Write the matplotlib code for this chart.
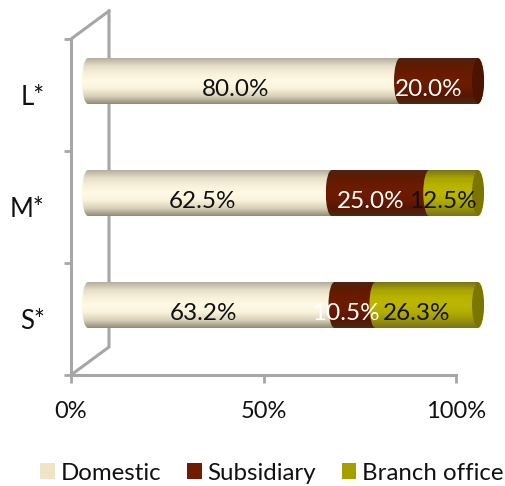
import numpy as np
import matplotlib
matplotlib.use('Agg')
import matplotlib.pyplot as plt
import matplotlib.patches as patches
from matplotlib.path import Path
from matplotlib.colors import LinearSegmentedColormap

plt.rcParams['font.family'] = ['Lato', 'DejaVu Sans']

# data
categories = ['S*', 'M*', 'L*']
domestic = [63.2, 62.5, 80.0]
subsidiary = [10.5, 25.0, 20.0]
branch = [26.3, 12.5, 0.0]
series_names = ['Domestic', 'Subsidiary', 'Branch office']
xticks = [0, 50, 100]

W, H = 505, 486
fig = plt.figure(figsize=(W / 100, H / 100), dpi=100)
ax = fig.add_axes([71 / W, 1 - 375 / H, 385 / W, 336 / H])
ax.set_xlim(0, 100)
ax.set_ylim(0, 3)
px = 100 / 385    # data units per pixel, x
py = 3 / 336      # data units per pixel, y

depth_x = 38 * px
depth_y = 28 * py
bar_x = 17 * px
bar_k = 1.013     # bars sit further back, so they come out a bit longer than the axis
bar_h = 46 * py
cap = 6 * px
grey = '#a6a6a6'

# shading from top to bottom of the cylinder
shades = {
    'Domestic': ['#b5ae9e', '#e6dec6', '#f8f1da', '#fffae6', '#f9f2da', '#d8d0b8', '#8f8a78'],
    'Subsidiary': ['#50200f', '#611b02', '#691b00', '#6c1c00', '#671a00', '#561600', '#4c2a1a'],
    'Branch office': ['#77741a', '#a8a300', '#b8b300', '#bcb700', '#b2ad00', '#98940a', '#777420'],
}
cap_colors = {'Domestic': '#c8c2ac', 'Subsidiary': '#4a1400', 'Branch office': '#7a7600'}
legend_colors = ['#f0e4c6', '#6f1c00', '#a5a000']

ax.set_facecolor('none')
for s in ax.spines.values():
    s.set_visible(False)

# chart walls
ax.plot([0, depth_x, depth_x], [0, depth_y, 3 + depth_y], color=grey, lw=2.2, clip_on=False, zorder=1)
ax.plot([0, depth_x], [3, 3 + depth_y], color=grey, lw=2.2, clip_on=False, zorder=1)
ax.plot([0, 0], [0, 3], color=grey, lw=2.2, clip_on=False, zorder=1)
ax.plot([0, 100], [0, 0], color=grey, lw=2.2, clip_on=False, zorder=1)

ax.set_xticks(xticks)
ax.set_xticklabels([f'{v}%' for v in xticks], fontsize=17, color='#111111')
ax.set_yticks([0, 1, 2, 3])
ax.set_yticklabels([])
ax.set_yticks([0.5, 1.5, 2.5], minor=True)
ax.set_yticklabels(categories, minor=True, fontsize=18.5, color='#111111')
ax.tick_params(axis='x', color=grey, width=2, length=6, pad=12.5)
ax.tick_params(axis='y', which='major', color=grey, width=2, length=5)
ax.tick_params(axis='y', which='minor', length=0, pad=19)


def segment(x0, x1, yc, name, z):
    y0, y1 = yc - bar_h / 2, yc + bar_h / 2
    k = 0.5523
    h = bar_h / 2
    verts = [(x0, y0), (x0 - cap * k, y0), (x0 - cap, yc - h * k), (x0 - cap, yc),
             (x0 - cap, yc + h * k), (x0 - cap * k, y1), (x0, y1),
             (x1, y1), (x1 + cap * k, y1), (x1 + cap, yc + h * k), (x1 + cap, yc),
             (x1 + cap, yc - h * k), (x1 + cap * k, y0), (x1, y0), (x0, y0)]
    codes = [Path.MOVETO] + [Path.CURVE4] * 6 + [Path.LINETO] + [Path.CURVE4] * 6 + [Path.LINETO]
    cmap = LinearSegmentedColormap.from_list(name, shades[name])
    grad = np.linspace(0, 1, 128).reshape(-1, 1)
    im = ax.imshow(grad, cmap=cmap, extent=(x0 - cap, x1 + cap, y0, y1), origin='upper',
                   aspect='auto', zorder=z, interpolation='bilinear')
    outline = patches.PathPatch(Path(verts, codes), transform=ax.transData, fc='none', ec='none',
                                clip_on=False)
    ax.add_patch(outline)
    # the path alone clips, the bars run past the axes box on the right
    im.set_clip_box(fig.bbox)
    im.set_clip_path(outline)


for i, cat in enumerate(categories):
    yc = i + 0.5 + depth_y / 2
    left = 0.0
    vals = [domestic[i], subsidiary[i], branch[i]]
    z = 3
    for name, v in zip(series_names, vals):
        if v == 0:
            continue
        segment(bar_x + left * bar_k, bar_x + (left + v) * bar_k, yc, name, z)
        last = name
        left += v
        z += 1
    ax.add_patch(patches.Ellipse((bar_x + left * bar_k, yc), 2 * cap, bar_h * 0.96, clip_on=False,
                                 fc=cap_colors[last], ec='none', zorder=z))

# data labels
label_colors = {'Domestic': '#111111', 'Subsidiary': 'white', 'Branch office': '#111111'}
for i, cat in enumerate(categories):
    left = 0.0
    for name, v in zip(series_names, [domestic[i], subsidiary[i], branch[i]]):
        if v == 0:
            continue
        ax.text(left + v / 2 + 11 * px, i + 0.5 + 6 * py, f'{v:.1f}%', ha='center', va='center',
                fontsize=17.5, color=label_colors[name], zorder=10, clip_on=False)
        left += v

ax.set_xlim(0, 100)
ax.set_ylim(0, 3)

handles = [patches.Patch(fc=c, ec='none') for c in legend_colors]
fig.legend(handles, series_names, loc='center', bbox_to_anchor=(272 / W, 1 - 473 / H), ncol=3,
           frameon=False, fontsize=17.3, handlelength=0.62, handleheight=0.62, handletextpad=0.25,
           columnspacing=1.05, labelcolor='#111111')

plt.savefig('out.png', dpi=100)
